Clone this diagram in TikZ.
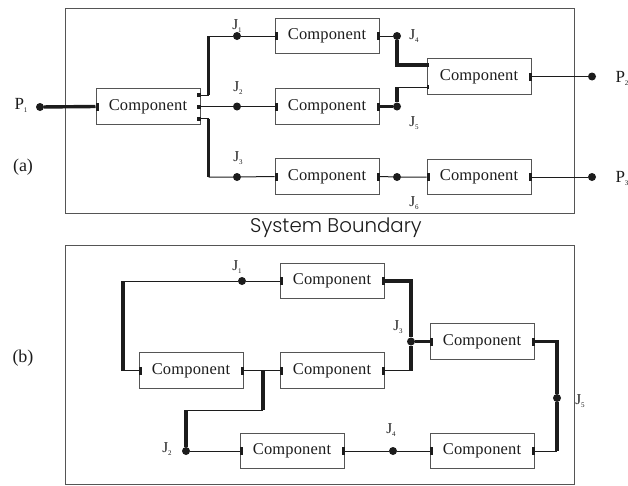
\documentclass[tikz,border=0pt]{standalone}
\usepackage{fontspec}
\setmainfont{Liberation Serif}
\newfontfamily\compfont[LetterSpace=1]{Liberation Serif}
\newfontfamily\boundfont{Poppins Light}
\usetikzlibrary{calc}
\definecolor{edge}{HTML}{555555}
\definecolor{ink}{HTML}{1C1C1C}
\newcommand\jsub[1]{\raisebox{-3pt}{\fontsize{7}{7}\selectfont#1}}
% port mark sitting just inside a box edge: #1 anchor, #2 depth (+ into box from west, - from east)
\newcommand\pmark[2]{\fill[ink] ($(#1)+(0,-4)$) rectangle ($(#1)+(#2,4)$);}
\newcommand\smark[2]{\fill[ink] ($(#1)+(0,-2)$) rectangle ($(#1)+(#2,2)$);}
\tikzset{
  comp/.style={draw=edge, line width=1pt, minimum width=104pt, minimum height=35.5pt,
    inner sep=0pt, text=ink, font=\compfont\fontsize{16.5}{17}\selectfont},
  frame/.style={draw=edge, line width=1pt},
  wire/.style={draw=ink, line width=1pt},
  bus/.style={draw=ink, line width=3.4pt},
  jdot/.style={circle, fill=ink, inner sep=0pt, minimum size=8pt},
  lbl/.style={inner sep=0pt, text=ink, font=\fontsize{15}{15}\selectfont},
  plbl/.style={inner sep=0pt, text=ink, font=\fontsize{17}{17}\selectfont},
  tag/.style={inner sep=0pt, text=ink, font=\fontsize{18}{18}\selectfont}
}
\begin{document}
\begin{tikzpicture}[x=1pt,y=-1pt]
\useasboundingbox (0,0) rectangle (628,485);

% boundaries
\draw[frame] (65,8) rectangle (574,213);
\draw[frame] (65,245) rectangle (574,484);
\node[inner sep=0pt, text=ink, font=\boundfont\fontsize{19.8}{20}\selectfont] (sb) at (336,228) {System Boundary};

% ---------- panel (a) ----------
\node[tag] (ta) at (23,167) {(a)};
\node[comp] (am) at (148,106.5) {Component};
\node[comp] (ac1) at (327,36) {Component};
\node[comp] (ac2) at (327,106.5) {Component};
\node[comp] (ac3) at (327,176.5) {Component};
\node[comp] (ar1) at (479,76.5) {Component};
\node[comp] (ar2) at (479,177) {Component};

\node[jdot] (ap1) at (40,107) {};
\node[jdot] (ap2) at (592,76.5) {};
\node[jdot] (ap3) at (592,177) {};
\node[jdot] (aj1) at (237,36) {};
\node[jdot] (aj2) at (237,106.5) {};
\node[jdot] (aj3) at (237,177) {};
\node[jdot] (aj4) at (397,36) {};
\node[jdot] (aj5) at (397,106.5) {};
\node[jdot] (aj6) at (397,177) {};

\node[plbl] (lp1) at (21,105) {P\jsub{1}};
\node[plbl] (lp2) at (622,78) {P\jsub{2}};
\node[plbl] (lp3) at (622,178) {P\jsub{3}};
\node[lbl] (la1) at (237,26) {J\jsub{1}};
\node[lbl] (la2) at (238,88) {J\jsub{2}};
\node[lbl] (la3) at (238,158) {J\jsub{3}};
\node[lbl] (la4) at (414,36) {J\jsub{4}};
\node[lbl] (la5) at (414,123) {J\jsub{5}};
\node[lbl] (la6) at (414,203) {J\jsub{6}};

% main component outputs
\coordinate (amt) at ($(am.east)+(0,-11.5)$);
\coordinate (amb) at ($(am.east)+(0,12)$);
\coordinate (ari) at ($(ar1.west)+(0,-11.5)$);
\coordinate (arj) at ($(ar1.west)+(0,10.5)$);

\draw[bus] (ap1) -- (am.west);
\draw[wire] (amt) -- ++(8,0) coordinate (ak1);
\draw[bus] (ak1) -- (ak1 |- aj1);
\draw[wire] (ak1 |- aj1) -- (aj1) -- (ac1.west);
\draw[wire] (am.east) -- (aj2) -- (ac2.west);
\draw[wire] (amb) -- ++(8,0) coordinate (ak3);
\draw[bus] (ak3) -- (ak3 |- aj3);
\draw[wire] (ak3 |- aj3) -- (aj3) -- (ac3.west);

\draw[wire] (ac1.east) -- (aj4);
\draw[bus] (aj4) -- (aj4 |- ari) -- (ari);
\draw[bus] (ac2.east) -- (aj5) -- (aj5 |- arj);
\draw[wire] (aj5 |- arj) -- (arj);
\draw[wire] (ac3.east) -- (aj6) -- (ar2.west);
\draw[wire] (ar1.east) -- (ap2);
\draw[wire] (ar2.east) -- (ap3);

\pmark{am.west}{3}
\smark{amt}{-3.5} \smark{am.east}{-3.5} \smark{amb}{-3.5}
\pmark{ac1.west}{3} \pmark{ac1.east}{-3}
\pmark{ac2.west}{3} \pmark{ac2.east}{-3}
\pmark{ac3.west}{3} \pmark{ac3.east}{-3}
\smark{ari}{2} \smark{arj}{2} \pmark{ar1.east}{-3}
\pmark{ar2.west}{3} \pmark{ar2.east}{-3}

% ---------- panel (b) ----------
\node[tag] (tb) at (23,358) {(b)};
\node[comp] (bl) at (191,370.5) {Component};
\node[comp] (bt) at (332,281) {Component};
\node[comp] (bm) at (332,370.5) {Component};
\node[comp] (br) at (482,341.5) {Component};
\node[comp] (bb1) at (292,451) {Component};
\node[comp] (bb2) at (482,451) {Component};

\node[jdot] (bj1) at (242,281) {};
\node[jdot] (bj2) at (186,451) {};
\node[jdot] (bj3) at (411,341.5) {};
\node[jdot] (bj4) at (393,451) {};
\node[jdot] (bj5) at (557,398) {};

\node[lbl] (lb1) at (237,267) {J\jsub{1}};
\node[lbl] (lb2) at (167,449) {J\jsub{2}};
\node[lbl] (lb3) at (398,327) {J\jsub{3}};
\node[lbl] (lb4) at (391,430) {J\jsub{4}};
\node[lbl] (lb5) at (580,401) {J\jsub{5}};

% left loop through J1
\coordinate (bk1) at (123,370.5);
\draw[wire] (bl.west) -- (bk1);
\draw[bus] (bk1) -- (bk1 |- bj1);
\draw[wire] (bk1 |- bj1) -- (bj1) -- (bt.west);

% branch down to J2
\draw[wire] (bl.east) -- (bm.west);
\coordinate (bk2) at (263,370.5);
\coordinate (bk3) at (263,410);
\draw[bus] (bk2) -- (bk3);
\draw[wire] (bk3) -- (bk3 -| bj2);
\draw[bus] (bk3 -| bj2) -- (bj2);
\draw[wire] (bj2) -- (bb1.west);

% merge at J3
\draw[bus] (bt.east) -- (bt.east -| bj3) -- (bj3) -- (bj3 |- bm.east);
\draw[wire] (bm.east) -- (bm.east -| bj3);
\draw[bus] (bj3) -- (br.west);

% return path through J5
\draw[bus] (br.east) -- (br.east -| bj5) -- (bj5) -- (bj5 |- bb2.east);
\draw[wire] (bb2.east) -- (bb2.east -| bj5);

% bottom row through J4
\draw[wire] (bb1.east) -- (bj4) -- (bb2.west);

\pmark{bl.west}{3} \pmark{bl.east}{-3}
\pmark{bt.west}{3} \pmark{bt.east}{-3}
\pmark{bm.west}{3} \pmark{bm.east}{-3}
\pmark{br.west}{3} \pmark{br.east}{-3}
\pmark{bb1.west}{3} \pmark{bb1.east}{-3}
\pmark{bb2.west}{3} \pmark{bb2.east}{-3}
\end{tikzpicture}
\end{document}
